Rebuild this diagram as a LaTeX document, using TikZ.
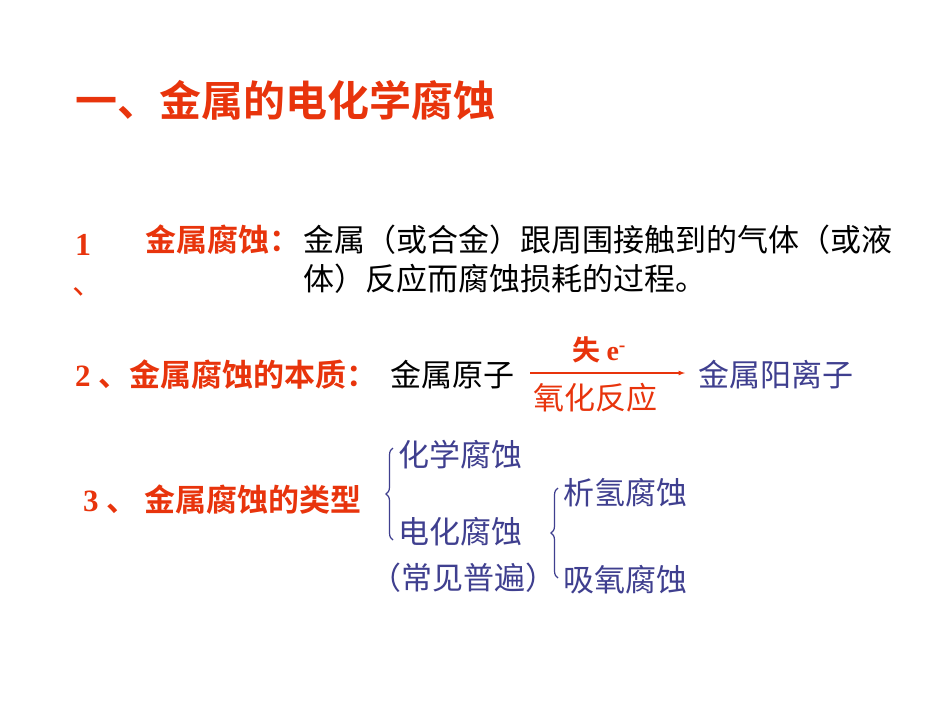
\documentclass[tikz,border=0pt]{standalone}
\usepackage{fontspec}
\usetikzlibrary{decorations.pathreplacing}
\newfontfamily\cjk{Noto Sans CJK SC}[BoldFont={* Bold}]
\newfontfamily\tnr{Liberation Serif}
\definecolor{rd}{HTML}{E8340C}
\definecolor{bl}{HTML}{3F3F8F}
\tikzset{t/.style={inner sep=0pt,anchor=west,font=\cjk\fontsize{31}{36}\selectfont},
 brc/.style={decorate,decoration={brace,amplitude=7pt},draw=bl,line width=1.2pt}}
\begin{document}
\begin{tikzpicture}[x=1pt,y=-1pt]
\useasboundingbox (0,0) rectangle (950,713);
\fill[white] (0,0) rectangle (950,713);
\node[t,rd,font=\cjk\bfseries\fontsize{42}{46}\selectfont] (title) at (75,100) {一、金属的电化学腐蚀};
\node[t,rd,font=\tnr\bfseries\fontsize{32}{36}\selectfont] (n1) at (75,245) {1};
\node[t,rd] (n1b) at (72,292) {、};
\node[t,rd,font=\cjk\bfseries\fontsize{31}{36}\selectfont] (l1) at (145,240) {金属腐蚀：};
\node[t] (d1) at (303,240) {金属（或合金）跟周围接触到的气体（或液};
\node[t] (d2) at (303,279) {体）反应而腐蚀损耗的过程。};
\node[t,rd,font=\cjk\bfseries\fontsize{31}{36}\selectfont] (l2) at (75,375) {{\tnr 2 }、金属腐蚀的本质：};
\node[t] (a) at (390,375) {金属原子};
\node[t,bl] (b) at (698,375) {金属阳离子};
\coordinate (as) at (530,373);
\coordinate (ae) at (685,373);
\draw[rd,line width=1.2pt,-latex] (as) -- (ae);
\node[t,rd,font=\cjk\bfseries\fontsize{28}{30}\selectfont] (up) at (572,350) {失 {\tnr e}\textsuperscript{\tnr -}};
\node[t,rd] (dn) at (533,398) {氧化反应};
\node[t,rd,font=\cjk\bfseries\fontsize{31}{36}\selectfont] (l3) at (83,500) {{\tnr 3 }、 金属腐蚀的类型};
\draw[brc] (393,540) -- (393,448);
\node[t,bl] (c1) at (398,455) {化学腐蚀};
\node[t,bl] (c2) at (398,532) {电化腐蚀};
\node[t,bl] (c3) at (370,578) {（常见普遍）};
\draw[brc] (558,578) -- (558,488);
\node[t,bl] (e1) at (563,493) {析氢腐蚀};
\node[t,bl] (e2) at (563,580) {吸氧腐蚀};
\end{tikzpicture}
\end{document}
